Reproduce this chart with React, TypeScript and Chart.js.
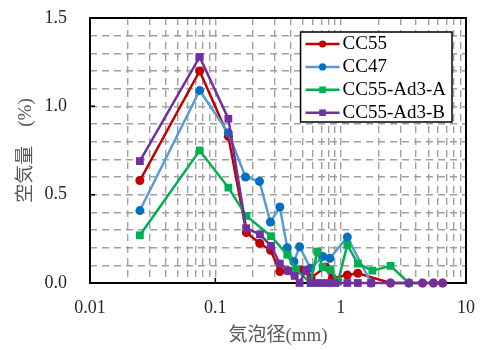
import React, { useEffect, useRef } from "react";
import { Chart, registerables } from "chart.js";

Chart.register(...registerables);

// ---- data ----
const seriesNames = ["CC55", "CC47", "CC55-Ad3-A", "CC55-Ad3-B"];

const cc55X = [0.025, 0.075, 0.127, 0.177, 0.226, 0.276, 0.327, 0.38, 0.49, 0.58, 0.76, 0.86, 1.13, 1.37, 2.5, 3.5, 4.5, 5.5, 6.5];
const cc55Y = [0.58, 1.2, 0.83, 0.285, 0.225, 0.185, 0.065, 0.07, 0.074, 0.03, 0.09, 0.027, 0.045, 0.055, 0, 0, 0, 0, 0];

const cc47X = [0.025, 0.075, 0.127, 0.174, 0.225, 0.275, 0.327, 0.375, 0.424, 0.47, 0.575, 0.72, 0.82, 1.13, 1.75];
const cc47Y = [0.41, 1.09, 0.85, 0.6, 0.575, 0.345, 0.43, 0.2, 0.12, 0.205, 0.083, 0.15, 0.14, 0.26, 0];

const ad3aX = [0.025, 0.075, 0.127, 0.177, 0.278, 0.375, 0.44, 0.575, 0.65, 0.72, 0.83, 0.95, 1.13, 1.37, 1.79, 2.5, 3.5];
const ad3aY = [0.27, 0.75, 0.54, 0.38, 0.265, 0.16, 0.076, 0, 0.178, 0.09, 0.074, 0.007, 0.216, 0.11, 0.07, 0.097, 0];

const ad3bX = [0.025, 0.075, 0.127, 0.176, 0.227, 0.278, 0.327, 0.38, 0.43, 0.47, 0.53, 0.58, 0.65, 0.71, 0.81, 0.91, 1.13, 1.37, 1.75, 2.5, 3.5, 4.5, 5.5, 6.5];
const ad3bY = [0.69, 1.28, 0.93, 0.31, 0.275, 0.21, 0.11, 0.07, 0.04, 0, 0.075, 0.0, 0, 0, 0, 0, 0, 0, 0, 0, 0, 0, 0, 0];

const xTickLabels = [0.01, 0.1, 1, 10];
const yTickLabels = [0, 0.5, 1.0, 1.5];
const xTitle = "気泡径(mm)";
const yTitle = "空気量　(%)";

const serif = "'Liberation Serif', 'Times New Roman', 'Noto Sans CJK JP', serif";

function toPoints(xs: number[], ys: number[]) {
  return xs.map((x, i) => ({ x, y: ys[i] }));
}

const framePlugin = {
  id: "frame",
  beforeDatasetsDraw(chart: any) {
    const { ctx, chartArea: a, scales } = chart;
    ctx.save();
    ctx.strokeStyle = "#000";
    ctx.lineWidth = 2;
    ctx.strokeRect(a.left, a.top, a.right - a.left, a.bottom - a.top);
    ctx.lineWidth = 1.5;
    ctx.beginPath();
    yTickLabels.slice(1, -1).forEach((v) => {
      const y = scales.y.getPixelForValue(v);
      ctx.moveTo(a.left, y);
      ctx.lineTo(a.left + 5, y);
    });
    xTickLabels.slice(1, -1).forEach((v) => {
      const x = scales.x.getPixelForValue(v);
      ctx.moveTo(x, a.bottom);
      ctx.lineTo(x, a.bottom - 5);
    });
    ctx.stroke();
    ctx.restore();
  },
};

const legendPlugin = {
  id: "boxLegend",
  afterDraw(chart: any) {
    const { ctx, chartArea: a } = chart;
    const ds = chart.data.datasets;
    ctx.save();
    ctx.font = "19px " + serif;
    const tw = Math.max(...ds.map((d: any) => ctx.measureText(d.label).width));
    const lineLen = 34, padL = 5, gap = 3, padR = 6, rowH = 22.9, padT = 12;
    const w = padL + lineLen + gap + tw + padR;
    const h = 90;
    const x0 = a.right - 14 - w;
    const y0 = a.top + 14;
    ctx.fillStyle = "#fff";
    ctx.fillRect(x0, y0, w, h);
    ctx.strokeStyle = "#000";
    ctx.lineWidth = 1.5;
    ctx.strokeRect(x0, y0, w, h);
    ds.forEach((d: any, i: number) => {
      const cy = y0 + padT + i * rowH;
      ctx.strokeStyle = d.borderColor;
      ctx.lineWidth = 2.5;
      ctx.beginPath();
      ctx.moveTo(x0 + padL, cy);
      ctx.lineTo(x0 + padL + lineLen, cy);
      ctx.stroke();
      ctx.fillStyle = d.pointBackgroundColor;
      const mx = x0 + padL + lineLen / 2;
      if (d.legendMarker === "circle") {
        ctx.beginPath();
        ctx.arc(mx, cy, 3.6, 0, Math.PI * 2);
        ctx.fill();
      } else {
        ctx.fillRect(mx - 3.3, cy - 3.3, 6.6, 6.6);
      }
      ctx.fillStyle = "#000";
      ctx.textBaseline = "middle";
      ctx.textAlign = "left";
      ctx.fillText(d.label, x0 + padL + lineLen + gap, cy);
    });
    ctx.restore();
  },
};

export default function App() {
  const canvasRef = useRef<HTMLCanvasElement | null>(null);

  useEffect(() => {
    if (!canvasRef.current) return;

    const xGrid: number[] = [];
    for (let e = -2; e <= 0; e++) for (let m = 1; m <= 9; m++) xGrid.push(Number((m * Math.pow(10, e)).toPrecision(6)));
    xGrid.push(10);
    const yGrid: number[] = [];
    for (let i = 0; i <= 15; i++) yGrid.push(i / 10);

    const gridStyle = {
      color: "#A0A0A0",
      lineWidth: 1.4,
      drawTicks: false,
    };

    const mk = (label: string, xs: number[], ys: number[], line: string, fill: string, marker: string, order: number, extra: any = {}) => ({
      label,
      data: toPoints(xs, ys),
      borderColor: line,
      backgroundColor: fill,
      pointBackgroundColor: fill,
      pointBorderColor: fill,
      pointBorderWidth: 0,
      borderWidth: 2.5,
      pointStyle: marker === "circle" ? "circle" : "rect",
      pointRadius: marker === "circle" ? 4.5 : 5.5,
      legendMarker: marker,
      tension: 0,
      clip: false,
      order,
      ...extra,
    });

    const chart = new Chart(canvasRef.current, {
      type: "line",
      data: {
        datasets: [
          mk(seriesNames[0], cc55X, cc55Y, "#C00000", "#C00000", "circle", 4),
          mk(seriesNames[1], cc47X, cc47Y, "#5B9BD5", "#0070C0", "circle", 3),
          mk(seriesNames[2], ad3aX, ad3aY, "#00B050", "#00B050", "rect", 2),
          mk(seriesNames[3], ad3bX, ad3bY, "#7030A0", "#7030A0", "rect", 1, {
            pointStyle: (c: any) => (c.raw && c.raw.x > 2 ? "circle" : "rect"),
            pointRadius: (c: any) => (c.raw && c.raw.x > 2 ? 4.3 : 5.5),
          }),
        ] as any,
      },
      options: {
        responsive: false,
        animation: false,
        layout: { padding: { left: 0, top: 18, right: 15, bottom: 0 } },
        plugins: {
          legend: { display: false },
          tooltip: { enabled: false },
        },
        scales: {
          x: {
            type: "logarithmic",
            min: 0.01,
            max: 10,
            afterBuildTicks: (scale: any) => {
              scale.ticks = xGrid.map((value) => ({ value }));
            },
            afterFit: (scale: any) => {
              scale.height = 67;
              scale.paddingLeft = 0;
              scale.paddingRight = 0;
              scale.paddingTop = 0;
              scale.paddingBottom = 0;
            },
            grid: { ...gridStyle } as any,
            border: { display: false, dash: [7, 5] },
            ticks: {
              autoSkip: false,
              maxRotation: 0,
              padding: 14,
              color: "#262626",
              font: { family: serif, size: 18 },
              callback: (v: any) => {
                const t = xTickLabels.find((t) => Math.abs(Math.log10(Number(v)) - Math.log10(t)) < 1e-6);
                return t === undefined ? "" : String(t);
              },
            },
            title: {
              display: true,
              text: xTitle,
              color: "#595959",
              font: { family: serif, size: 19 },
              padding: { top: 0, bottom: 3 },
            },
          },
          y: {
            type: "linear",
            min: 0,
            max: 1.5,
            afterBuildTicks: (scale: any) => {
              scale.ticks = yGrid.map((value) => ({ value }));
            },
            afterFit: (scale: any) => {
              scale.width = 90;
              scale.paddingLeft = 0;
              scale.paddingRight = 0;
              scale.paddingTop = 0;
              scale.paddingBottom = 0;
            },
            grid: { ...gridStyle } as any,
            border: { display: false, dash: [7, 5] },
            ticks: {
              autoSkip: false,
              padding: 23,
              color: "#262626",
              font: { family: serif, size: 18 },
              callback: (v: any) => {
                const t = yTickLabels.find((t) => Math.abs(Number(v) - t) < 1e-6);
                return t === undefined ? "" : t.toFixed(1);
              },
            },
            title: {
              display: true,
              text: yTitle,
              color: "#595959",
              font: { family: serif, size: 19 },
              padding: { top: 15, bottom: 0 },
            },
          },
        },
      } as any,
      plugins: [framePlugin, legendPlugin],
    });

    return () => chart.destroy();
  }, []);

  return (
    <div style={{ position: "fixed", left: 0, top: 0, width: 481, height: 350, background: "#fff" }}>
      <canvas ref={canvasRef} width={481} height={350} style={{ width: 481, height: 350 }} />
    </div>
  );
}
